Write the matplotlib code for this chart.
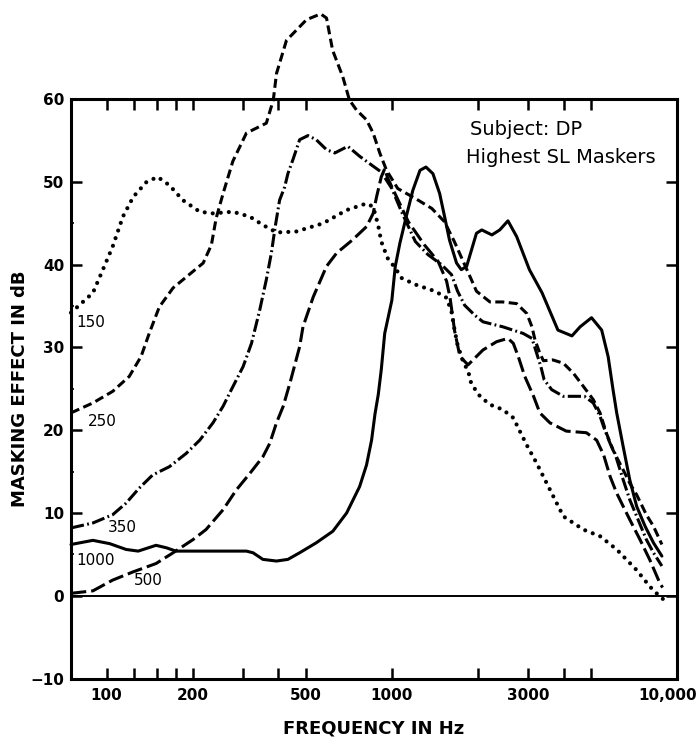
import matplotlib.pyplot as plt
from matplotlib.transforms import ScaledTranslation

plt.rcParams['font.family'] = 'DejaVu Sans'
plt.rcParams['lines.scale_dashes'] = False

# masker 150 Hz (dotted)
f150 = [75, 89.5, 97, 105, 114, 124, 138, 151, 166, 185, 212, 236, 277, 318, 353,
        394, 461, 574, 694, 815, 860, 895, 918, 966, 1028, 1081, 1209, 1416, 1556,
        1619, 1656, 1700, 1778, 1853, 1900, 2038, 2208, 2448, 2666, 2800, 2973,
        3221, 3684, 3994, 4693, 5370, 6143, 7219, 8036, 8710, 9325]
m150 = [34.2, 36.6, 39.4, 42.2, 45.8, 48.2, 50.0, 50.6, 49.6, 47.8, 46.4, 46.2, 46.4,
        45.8, 44.8, 43.9, 44.0, 45.0, 46.6, 47.4, 47.0, 44.8, 42.8, 40.8, 39.6, 38.4,
        37.6, 36.8, 36.0, 34.3, 32.3, 30.3, 28.3, 27.1, 25.6, 24.1, 23.1, 22.5, 21.5,
        20.0, 18.2, 16.0, 12.0, 9.6, 8.0, 7.2, 5.6, 3.1, 1.1, -0.1, -0.9]

# masker 250 Hz (short dashes)
f250 = [75, 89.5, 105, 120, 132, 141, 153, 171, 201, 218, 233, 242, 256, 277, 309,
        363, 384, 394, 427, 502, 563, 590, 620, 673, 710, 751, 815, 860, 907, 958,
        1049, 1209, 1380, 1529, 1656, 1800, 1900, 1980, 2208, 2448, 2739, 2973,
        3099, 3177, 3303, 3400, 3665, 3994, 4328, 4693, 5084, 5370, 5660, 5964,
        6475, 6828, 7219, 7804, 8267, 8847]
m250 = [22.1, 23.3, 24.7, 26.5, 28.9, 31.7, 34.9, 37.2, 39.2, 40.2, 42.4, 45.6, 48.6,
        52.5, 55.9, 57.1, 59.9, 63.1, 67.1, 69.6, 70.3, 69.8, 65.9, 62.7, 59.9, 58.7,
        57.5, 55.9, 53.5, 51.4, 49.2, 48.0, 46.8, 45.2, 42.8, 40.0, 38.2, 36.8, 35.5,
        35.5, 35.3, 34.1, 32.5, 30.9, 29.3, 28.4, 28.5, 28.1, 26.9, 25.3, 23.7, 22.1,
        19.6, 17.6, 15.2, 13.6, 12.2, 9.8, 8.4, 6.2]

# masker 350 Hz (dash-dot)
f350 = [75, 89.5, 105, 117, 130, 145, 166, 190, 212, 236, 256, 270, 301, 322, 344,
        363, 378, 390, 404, 421, 432, 450, 475, 508, 543, 590, 631, 701, 771, 860,
        918, 1000, 1081, 1209, 1340, 1494, 1619, 1700, 1800, 1953, 2087, 2448, 2886,
        3099, 3330, 3420, 3636, 3994, 4436, 4732, 5084, 5370, 5531, 5826, 6055,
        6475, 6828, 7219, 7804, 8267, 8847]
m350 = [8.2, 8.8, 9.8, 11.2, 13.0, 14.6, 15.6, 17.2, 18.8, 20.9, 22.9, 24.5, 27.7,
        30.5, 34.5, 38.2, 41.4, 44.6, 47.8, 49.4, 51.0, 52.7, 55.1, 55.6, 55.1, 53.9,
        53.5, 54.3, 53.1, 51.9, 51.2, 49.2, 46.4, 42.8, 41.2, 40.0, 38.8, 36.8, 35.1,
        33.9, 33.1, 32.5, 31.7, 31.1, 27.7, 26.1, 24.9, 24.1, 24.1, 24.1, 23.3, 21.7,
        20.4, 18.4, 17.2, 14.0, 11.6, 9.6, 6.8, 5.2, 3.6]

# masker 500 Hz (long dashes)
f500 = [75, 89.5, 105, 124, 149, 171, 201, 223, 256, 285, 318, 353, 373, 394, 416,
        440, 475, 488, 530, 590, 640, 728, 815, 860, 884, 918, 944, 966, 1142, 1300,
        1453, 1556, 1600, 1660, 1733, 1850, 2087, 2330, 2553, 2666, 2775, 2925,
        3140, 3303, 3582, 4087, 4811, 5225, 5531, 5826, 6143, 6475, 6828, 7411,
        8036, 8710, 8900]
m500 = [0.3, 0.6, 1.9, 2.9, 3.9, 5.2, 6.8, 8.0, 10.4, 12.8, 14.8, 16.8, 18.4, 20.9,
        22.9, 25.8, 30.1, 32.5, 36.1, 39.8, 41.4, 43.0, 44.6, 46.2, 48.2, 50.6, 51.6,
        50.5, 45.2, 42.4, 40.4, 38.0, 36.0, 32.0, 28.9, 27.9, 29.7, 30.7, 31.1, 30.5,
        28.9, 26.5, 24.1, 22.1, 20.9, 19.9, 19.7, 18.8, 17.0, 14.4, 12.4, 10.8, 9.2,
        6.8, 4.3, 1.5, 1.0]

# masker 1000 Hz (solid)
f1000 = [75, 89.5, 102.5, 117, 129, 140, 149, 162, 175, 230, 309, 326, 353, 394, 432,
         475, 543, 621, 694, 771, 815, 849, 873, 896, 918, 944, 1000, 1028, 1067,
         1123, 1185, 1255, 1317, 1393, 1471, 1531, 1592, 1686, 1752, 1829, 1980,
         2067, 2243, 2389, 2553, 2739, 3036, 3363, 3822, 4280, 4573, 5014, 5442,
         5733, 5964, 6143, 6475, 6828, 7219, 7726, 8267, 8847]
m1000 = [6.2, 6.7, 6.3, 5.6, 5.4, 5.8, 6.1, 5.8, 5.4, 5.4, 5.4, 5.2, 4.4, 4.2, 4.4,
         5.2, 6.4, 7.8, 10.0, 13.2, 15.8, 18.8, 22.0, 24.3, 27.3, 31.7, 35.7, 39.8,
         42.6, 45.8, 49.0, 51.4, 51.8, 51.0, 48.6, 45.8, 43.0, 40.2, 39.4, 39.8, 43.8,
         44.2, 43.6, 44.2, 45.3, 43.4, 39.4, 36.6, 32.1, 31.4, 32.5, 33.6, 32.1, 28.9,
         24.9, 22.1, 18.0, 14.0, 10.8, 8.4, 6.4, 4.8]

xticks = [100, 125, 150, 175, 200, 300, 400, 500, 1000, 2000, 3000, 4000, 5000]
xlabels = ['100', '', '', '', '200', '', '', '500', '1000', '', '3000', '', '']
yticks = [-10, 0, 10, 20, 30, 40, 50, 60]

fig = plt.figure(figsize=(6.99, 7.4), dpi=100)
ax = fig.add_axes([0.1016, 0.083, 0.867, 0.783])

lw = 2.2
ax.plot(f150, m150, color='black', lw=3.0, linestyle=(0, (0.01, 5.8)),
        dash_capstyle='round', clip_on=False)
ax.plot(f250, m250, color='black', lw=lw, linestyle=(0, (6.5, 3.2)), clip_on=False)
ax.plot(f350, m350, color='black', lw=lw, linestyle=(0, (9.5, 2.4, 1.3, 2.4)),
        clip_on=False)
ax.plot(f500, m500, color='black', lw=lw, linestyle=(0, (11, 3.6)), clip_on=False)
ax.plot(f1000, m1000, color='black', lw=lw, solid_capstyle='round', clip_on=False)

ax.axhline(0, color='black', lw=1.4)

ax.set_xscale('log')
ax.set_xlim(75, 10000)
ax.set_ylim(-10, 60)

ax.xaxis.set_minor_locator(plt.NullLocator())
ax.set_xticks(xticks + [10000])
ax.set_xticklabels(xlabels + ['10,000'])
ax.set_yticks(yticks)
ax.set_yticks([5, 15, 25, 35, 45], minor=True)

ax.tick_params(axis='both', which='major', direction='in', length=8, width=1.8,
               top=True, right=True, labelsize=11, pad=7)
ax.tick_params(axis='y', which='minor', direction='in', length=2.5, width=1.2,
               left=True, right=False)
for lab in ax.get_xticklabels() + ax.get_yticklabels():
    lab.set_fontweight('bold')
ax.yaxis.set_tick_params(which='major', pad=5)

# keep the 10,000 label inside the figure
last = ax.get_xticklabels()[-1]
last.set_horizontalalignment('right')
last.set_transform(last.get_transform() + ScaledTranslation(20 / 100, 0, fig.dpi_scale_trans))

for s in ax.spines.values():
    s.set_linewidth(2.2)

ax.set_xlabel('FREQUENCY IN Hz', fontsize=13, fontweight='bold', labelpad=12)
ax.set_ylabel('MASKING EFFECT IN dB', fontsize=13, fontweight='bold', labelpad=1)

ax.text(0.658, 0.947, 'Subject: DP', transform=ax.transAxes, fontsize=14,
        va='center', ha='left')
ax.text(0.652, 0.900, 'Highest SL Maskers', transform=ax.transAxes, fontsize=14,
        va='center', ha='left')

ax.text(78.5, 33.0, '150', fontsize=11, va='center', ha='left')
ax.text(86, 21.1, '250', fontsize=11, va='center', ha='left')
ax.text(101, 8.2, '350', fontsize=11, va='center', ha='left')
ax.text(78.5, 4.3, '1000', fontsize=11, va='center', ha='left')
ax.text(125, 1.9, '500', fontsize=11, va='center', ha='left')

fig.savefig('out.png', dpi=100)
